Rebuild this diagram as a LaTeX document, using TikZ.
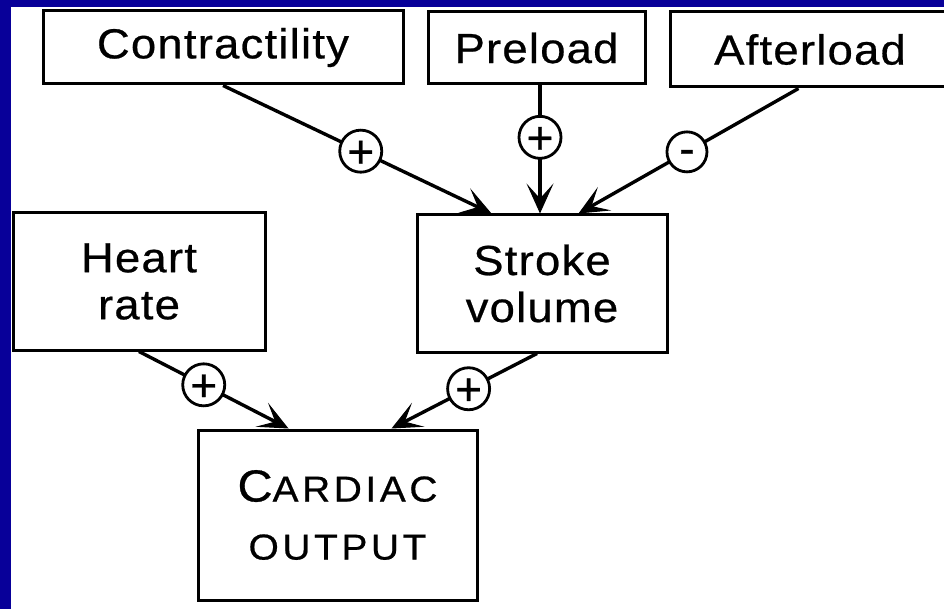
\documentclass[tikz,border=0pt]{standalone}
\usepackage{fontspec}
\setmainfont{Liberation Sans}
\newfontfamily\labfont[FakeStretch=1.08,LetterSpace=3,FakeBold=0.6]{Liberation Sans}
\newfontfamily\cofont[FakeStretch=1.08,LetterSpace=10,FakeBold=0.6]{Liberation Sans}
\newfontfamily\symfont[FakeBold=0.6]{Liberation Sans}
\usetikzlibrary{arrows.meta}
\definecolor{slideblue}{RGB}{8,0,153}
\begin{document}
\begin{tikzpicture}[x=1pt,y=-1pt,
  box/.style={draw=black, line width=3pt, fill=white, inner sep=0pt, align=center,
    font=\labfont\fontsize{42}{47}\selectfont},
  sign/.style={circle, draw=black, line width=2.8pt, fill=white, minimum size=40pt,
    inner sep=0pt, font=\symfont\fontsize{46}{46}\selectfont, text height=32.5pt, text depth=0pt},
  minus/.style={text height=24.4pt},
  conn/.style={line width=3.4pt, -{Stealth[length=30pt,width=27pt,inset=15pt,line width=1pt]}}
]
\fill[slideblue] (0,0) rectangle (944,609);
\fill[white] (11,7) rectangle (944,609);
\useasboundingbox (0,0) rectangle (944,609);

\node[box, minimum width=360pt, minimum height=73pt] (contr) at (223,47.5) {Contractility};
\node[box, minimum width=217pt, minimum height=72pt] (pre) at (536.5,48) {Preload};
\node[box, minimum width=280pt, minimum height=75pt] (after) at (810,49.5) {Afterload};
\node[box, minimum width=252pt, minimum height=137pt] (hr) at (139,281.5) {Heart\\rate};
\node[box, minimum width=250pt, minimum height=137pt] (sv) at (542,283.5) {Stroke\\volume};
\node[box, minimum width=279pt, minimum height=170pt, font=\cofont\fontsize{36}{58}\selectfont] (co) at (337.5,515)
  {{\fontsize{45}{58}\selectfont C}ARDIAC\\OUTPUT};

\draw[conn] (contr.south) -- ([xshift=76pt]sv.north west) node[sign, pos=0.513] (s1) {+};
\draw[conn] ([xshift=3.5pt]pre.south) -- ([xshift=3.5pt]pre.south |- sv.north) node[sign, pos=0.405] (s2) {+};
\draw[conn] ([xshift=130pt]after.south west) -- ([xshift=163pt]sv.north west) node[sign, minus, pos=0.507] (s3) {-};
\draw[conn] (hr.south) -- ([xshift=92pt]co.north west) node[sign, pos=0.433] (s4) {+};
\draw[conn] ([xshift=-5pt]sv.south) -- ([xshift=195pt]co.north west) node[sign, pos=0.47] (s5) {+};
\end{tikzpicture}
\end{document}
